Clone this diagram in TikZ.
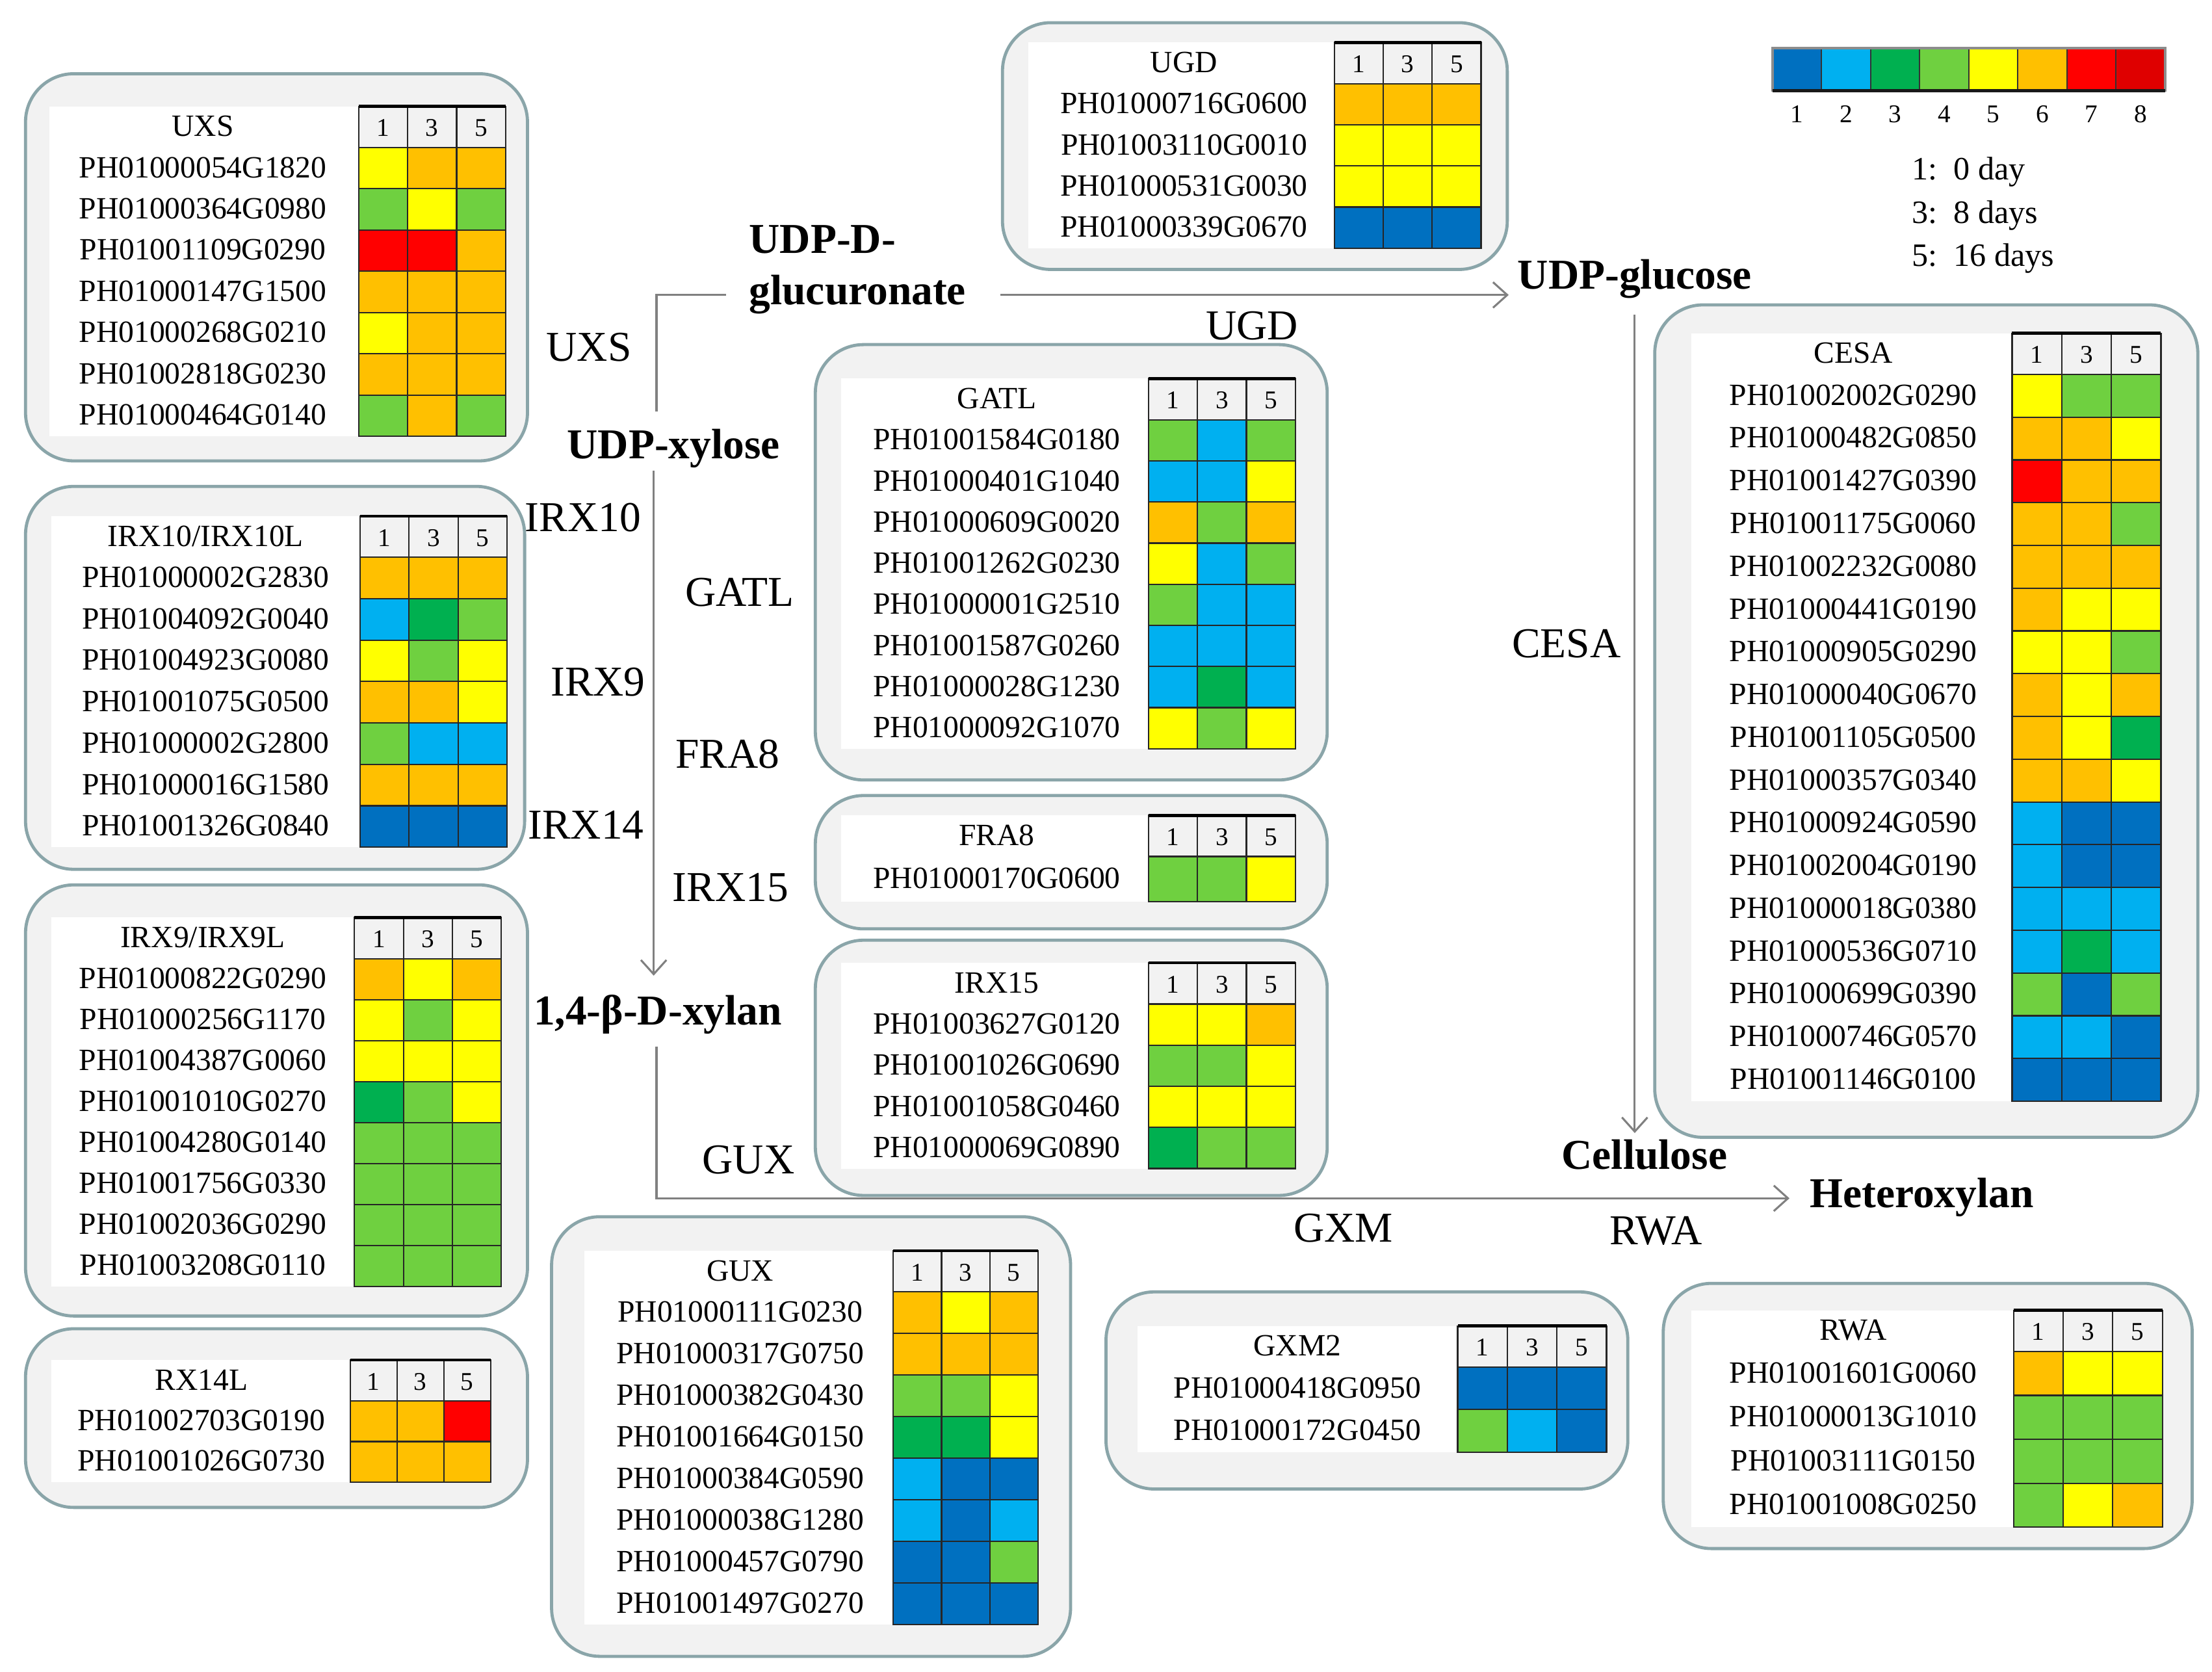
\documentclass[tikz,border=0pt]{standalone}
\usepackage{fontspec}
\setmainfont{Liberation Serif}
\usetikzlibrary{arrows.meta}
\definecolor{c1}{HTML}{0070C0}
\definecolor{c2}{HTML}{00B0F0}
\definecolor{c3}{HTML}{00B050}
\definecolor{c4}{HTML}{6FD040}
\definecolor{c5}{HTML}{FFFF00}
\definecolor{c6}{HTML}{FFC000}
\definecolor{c7}{HTML}{FF0000}
\definecolor{c8}{HTML}{DF0000}
\definecolor{panelgray}{HTML}{F2F2F2}
\definecolor{panelborder}{HTML}{8AA5A9}
\definecolor{linegray}{HTML}{808080}
\tikzset{
 gene/.style={font=\fontsize{10.9}{12}\selectfont, inner sep=0pt, text height=0.66em, text depth=0pt},
 lab/.style={font=\fontsize{15}{17}\selectfont, inner sep=0pt, anchor=west, text height=0.66em, text depth=0pt},
 boldlab/.style={lab, font=\fontsize{15}{17}\selectfont\bfseries},
 hdr/.style={font=\fontsize{9}{10}\selectfont, inner sep=0pt, text height=0.66em, text depth=0pt},
 legt/.style={font=\fontsize{11.5}{13}\selectfont, inner sep=0pt, anchor=west, text height=0.66em, text depth=0pt},
 panel/.style={fill=panelgray, draw=panelborder, line width=1.1pt, rounded corners=17pt},
 cellline/.style={draw=black!85, line width=0.5pt},
 conn/.style={draw=linegray, line width=0.7pt},
 arr/.style={conn, -{Straight Barb[length=5pt,width=9pt]}},
}
\def\hmcw{34.5}
% #1 prefix, #2 white left, #3 text cx, #4 colx, #5 top, #6 pitch, #7 title, #8 rows
\newcommand{\hm}[8]{%
 \gdef\hmN{0}%
 \foreach \g/\a/\b/\c [count=\i] in {#8}{\xdef\hmN{\i}}%
 \pgfmathsetmacro\hmB{#5+29+\hmN*#6}%
 \fill[white] (#2,#5) rectangle (#4,\hmB);
 \node[gene] (#1-t) at (#3,{#5+14.5}) {#7};
 \foreach \k/\lab in {0/1,1/3,2/5}{
   \draw[cellline, fill=panelgray] ({#4+\k*\hmcw},#5) rectangle ++(\hmcw,29);
   \node[hdr] (#1-h\k) at ({#4+(\k+0.5)*\hmcw},{#5+14.5}) {\lab};
 }
 \draw[line width=1pt] (#4,#5) -- ++({3*\hmcw},0);
 \foreach \g/\a/\b/\c [count=\i] in {#8}{
   \pgfmathsetmacro\yy{#5+29+(\i-1)*#6}
   \draw[cellline, fill=c\a] (#4,\yy) rectangle ++(\hmcw,#6);
   \draw[cellline, fill=c\b] ({#4+\hmcw},\yy) rectangle ++(\hmcw,#6);
   \draw[cellline, fill=c\c] ({#4+2*\hmcw},\yy) rectangle ++(\hmcw,#6);
   \node[gene] (#1-g\i) at (#3,{\yy+#6/2}) {\g};
 }
}
\begin{document}
\begin{tikzpicture}[x=0.5pt,y=-0.5pt]
\useasboundingbox (0,0) rectangle (1560,1179);
\fill[white] (0,0) rectangle (1560,1179);

% ---------- panels ----------
\draw[panel] (18,52) rectangle (372,325);
\hm{uxs}{35}{143}{253}{75}{29.1}{UXS}{PH01000054G1820/5/6/6,PH01000364G0980/4/5/4,PH01001109G0290/7/7/6,PH01000147G1500/6/6/6,PH01000268G0210/5/6/6,PH01002818G0230/6/6/6,PH01000464G0140/4/6/4}

\draw[panel] (18,343) rectangle (370,613);
\hm{irx10}{36}{145}{254}{364}{29.2}{IRX10/IRX10L}{PH01000002G2830/6/6/6,PH01004092G0040/2/3/4,PH01004923G0080/5/4/5,PH01001075G0500/6/6/5,PH01000002G2800/4/2/2,PH01000016G1580/6/6/6,PH01001326G0840/1/1/1}

\draw[panel] (18,624) rectangle (372,928);
\hm{irx9}{36}{143}{250}{647}{28.9}{IRX9/IRX9L}{PH01000822G0290/6/5/6,PH01000256G1170/5/4/5,PH01004387G0060/5/5/5,PH01001010G0270/3/4/5,PH01004280G0140/4/4/4,PH01001756G0330/4/4/4,PH01002036G0290/4/4/4,PH01003208G0110/4/4/4}

\draw[panel] (18,937) rectangle (372,1063);
\def\hmcw{33}
\hm{rx14}{36}{142}{247}{959}{28.5}{RX14L}{PH01002703G0190/6/6/7,PH01001026G0730/6/6/6}
\def\hmcw{34.5}

\draw[panel] (707,16) rectangle (1063,190);
\hm{ugd}{725}{835}{941}{30}{29}{UGD}{PH01000716G0600/6/6/6,PH01003110G0010/5/5/5,PH01000531G0030/5/5/5,PH01000339G0670/1/1/1}

\draw[panel] (575,243) rectangle (936,550);
\hm{gatl}{593}{703}{810}{267}{29}{GATL}{PH01001584G0180/4/2/4,PH01000401G1040/2/2/5,PH01000609G0020/6/4/6,PH01001262G0230/5/2/4,PH01000001G2510/4/2/2,PH01001587G0260/2/2/2,PH01000028G1230/2/3/2,PH01000092G1070/5/4/5}

\draw[panel] (575,561) rectangle (936,655);
\hm{fra8}{593}{703}{810}{575}{32}{FRA8}{PH01000170G0600/4/4/5}

\draw[panel] (575,663) rectangle (936,843);
\hm{irx15}{593}{703}{810}{679}{29}{IRX15}{PH01003627G0120/5/5/6,PH01001026G0690/4/4/5,PH01001058G0460/5/5/5,PH01000069G0890/3/4/4}

\draw[panel] (1167,215) rectangle (1550,802);
\def\hmcw{35}
\hm{cesa}{1193}{1307}{1419}{235}{30.15}{CESA}{PH01002002G0290/5/4/4,PH01000482G0850/6/6/5,PH01001427G0390/7/6/6,PH01001175G0060/6/6/4,PH01002232G0080/6/6/6,PH01000441G0190/6/5/5,PH01000905G0290/5/5/4,PH01000040G0670/6/5/6,PH01001105G0500/6/5/3,PH01000357G0340/6/6/5,PH01000924G0590/2/1/1,PH01002004G0190/2/1/1,PH01000018G0380/2/2/2,PH01000536G0710/2/3/2,PH01000699G0390/4/1/4,PH01000746G0570/2/2/1,PH01001146G0100/1/1/1}
\def\hmcw{34}

\draw[panel] (389,858) rectangle (755,1168);
\hm{gux}{412}{522}{630}{882}{29.3}{GUX}{PH01000111G0230/6/5/6,PH01000317G0750/6/6/6,PH01000382G0430/4/4/5,PH01001664G0150/3/3/5,PH01000384G0590/2/1/1,PH01000038G1280/2/1/2,PH01000457G0790/1/1/4,PH01001497G0270/1/1/1}

\def\hmcw{35}
\draw[panel] (780,911) rectangle (1148,1050);
\hm{gxm}{802}{915}{1028}{935}{30}{GXM2}{PH01000418G0950/1/1/1,PH01000172G0450/4/2/1}

\draw[panel] (1173,905) rectangle (1546,1092);
\hm{rwa}{1193}{1307}{1420}{924}{31}{RWA}{PH01001601G0060/6/5/5,PH01000013G1010/4/4/4,PH01003111G0150/4/4/4,PH01001008G0250/4/5/6}

% ---------- legend ----------
\foreach \k in {1,...,8}{
  \fill[c\k] ({1250+(\k-1)*34.6},34) rectangle ++(34.6,30);
  \draw[black!80, line width=0.4pt] ({1250+(\k-1)*34.6},34) -- ++(0,30);
  \node[hdr] (leg-n\k) at ({1250+(\k-0.5)*34.6},80) {\k};
}
\draw[black!45, line width=0.8pt] (1250,34) rectangle (1527,64);
\draw[black!90, line width=1pt] (1250,64) -- (1527,64);
\node[legt] (leg1) at (1348,120) {1:\ \ 0 day};
\node[legt] (leg3) at (1348,151) {3:\ \ 8 days};
\node[legt] (leg5) at (1348,181) {5:\ \ 16 days};

% ---------- pathway labels ----------
\node[boldlab] (udpd) at (528,172) {UDP-D-};
\node[boldlab] (glucu) at (528,208) {glucuronate};
\node[boldlab] (ugl) at (1070,197) {UDP-glucose};
\node[boldlab, anchor=center] (xyl) at (475,317) {UDP-xylose};
\node[boldlab] (xylan) at (376,716) {1,4-β-D-xylan};
\node[boldlab] (cell) at (1101,818) {Cellulose};
\node[boldlab] (het) at (1276,845) {Heteroxylan};

\node[lab] (e-uxs) at (385,248) {UXS};
\node[lab] (e-ugd) at (850,233) {UGD};
\node[lab] (e-irx10) at (370,368) {IRX10};
\node[lab] (e-gatl) at (483,421) {GATL};
\node[lab] (e-irx9) at (388,484) {IRX9};
\node[lab] (e-fra8) at (476,535) {FRA8};
\node[lab] (e-irx14) at (372,585) {IRX14};
\node[lab] (e-irx15) at (474,629) {IRX15};
\node[lab] (e-gux) at (495,821) {GUX};
\node[lab] (e-cesa) at (1066,457) {CESA};
\node[lab] (e-gxm) at (912,869) {GXM};
\node[lab] (e-rwa) at (1135,871) {RWA};

% ---------- connectors ----------
\coordinate (brk) at (463,290);
\draw[conn] ([xshift=-8pt]glucu.west) -| (brk);
\draw[arr, shorten <=12pt, shorten >=3pt] (glucu.east) -- (glucu.east -| ugl.west);
\coordinate (xa) at (461,332);
\draw[arr, shorten >=10.5pt] (xa) -- (xa |- xylan.north);
\coordinate (xb) at (463,738);
\draw[arr, shorten >=7pt] (xb) |- (het.west);
\draw[arr, shorten <=9pt, shorten >=6pt] (ugl.south) -- (ugl.south |- cell.north);
\end{tikzpicture}
\end{document}
